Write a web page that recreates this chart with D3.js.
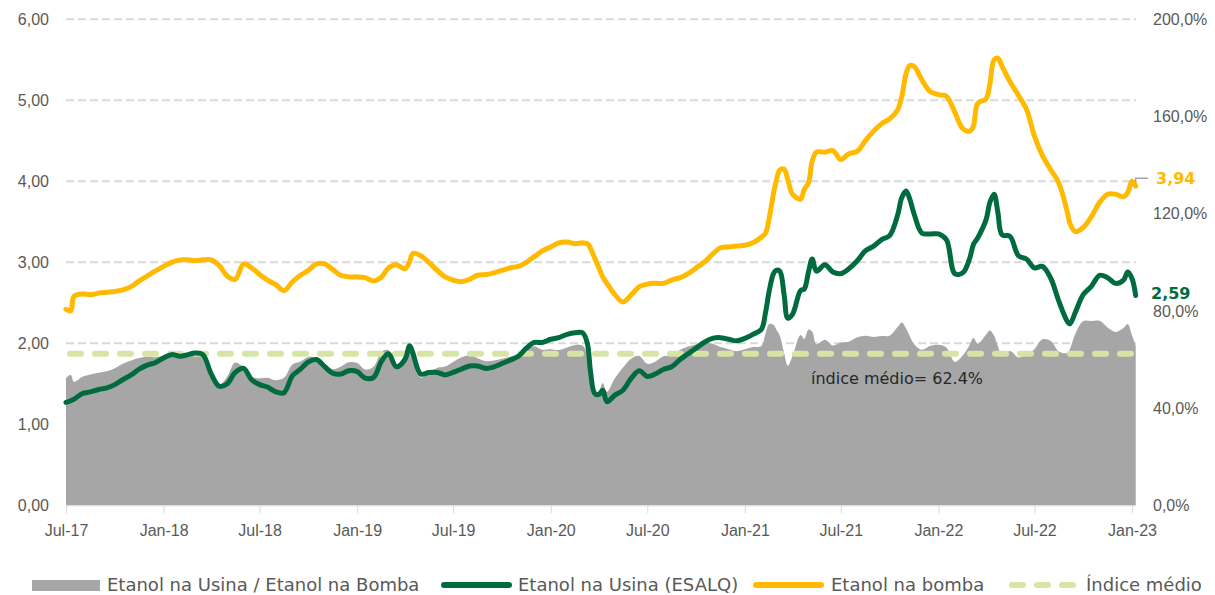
<!DOCTYPE html>
<html>
<head>
  <meta charset="utf-8">
  <title>Etanol</title>
  <style>
    body { margin: 0; background: #fff; }
    svg { font-family: "DejaVu Sans", sans-serif; }
    .axis text { fill: #595959; font-size: 16px; }
    .axis path, .axis line { stroke: #D9D9D9; }
    .legend text { fill: #595959; font-size: 18px; }
  </style>
</head>
<body>
<script src="https://d3js.org/d3.v7.min.js"></script>
<script>
  var width = 1215,
      height = 595;

  // semanas / quinzenas
  var datas = [
    '2017-07-01','2017-07-10','2017-07-16','2017-08-01','2017-08-16','2017-09-01','2017-09-16','2017-10-01','2017-10-16','2017-11-01','2017-11-16','2017-12-01','2017-12-16',
    '2018-01-01','2018-01-16','2018-02-01','2018-02-16','2018-03-01','2018-03-16','2018-04-01','2018-04-16','2018-05-01','2018-05-16','2018-06-01','2018-06-16',
    '2018-07-01','2018-07-16','2018-08-01','2018-08-16','2018-09-01','2018-09-16','2018-10-01','2018-10-16','2018-11-01','2018-11-16','2018-12-01','2018-12-16',
    '2019-01-01','2019-01-16','2019-02-01','2019-02-16','2019-03-01','2019-03-16','2019-04-01','2019-04-10','2019-04-16','2019-05-01','2019-05-16','2019-06-01','2019-06-16',
    '2019-07-01','2019-07-16','2019-08-01','2019-08-16','2019-09-01','2019-09-16','2019-10-01','2019-10-16','2019-11-01','2019-11-16','2019-12-01','2019-12-16',
    '2020-01-01','2020-01-16','2020-02-01','2020-02-16','2020-03-01','2020-03-10','2020-03-16','2020-03-24','2020-04-01','2020-04-08','2020-04-16','2020-05-01','2020-05-16','2020-06-01','2020-06-16',
    '2020-07-01','2020-07-16','2020-08-01','2020-08-16','2020-09-01','2020-09-16','2020-10-01','2020-10-16','2020-11-01','2020-11-16','2020-12-01','2020-12-16',
    '2021-01-01','2021-01-16','2021-02-01','2021-02-09','2021-02-16','2021-02-24','2021-03-01','2021-03-08','2021-03-16','2021-03-23','2021-04-01','2021-04-16','2021-04-23','2021-05-01','2021-05-08','2021-05-16','2021-06-01','2021-06-16',
    '2021-07-01','2021-07-16','2021-08-01','2021-08-16','2021-09-01','2021-09-16','2021-10-01','2021-10-16','2021-10-24','2021-11-01','2021-11-08','2021-11-16','2021-12-01','2021-12-16',
    '2022-01-01','2022-01-16','2022-02-01','2022-02-16','2022-03-01','2022-03-08','2022-03-16','2022-04-01','2022-04-08','2022-04-16','2022-04-23','2022-05-01','2022-05-16','2022-06-01','2022-06-16',
    '2022-07-01','2022-07-16','2022-08-01','2022-08-16','2022-09-01','2022-09-06','2022-09-16','2022-10-01','2022-10-16','2022-11-01','2022-11-16','2022-12-01','2022-12-16','2022-12-24',
    '2023-01-01','2023-01-08'
  ];

  // Etanol na bomba (R$/L)
  var bomba = [
    2.42,2.40,2.58,2.61,2.60,2.62,2.63,2.64,2.66,2.70,2.77,2.83,2.89,
    2.95,3.00,3.03,3.03,3.02,3.03,3.03,2.96,2.83,2.79,2.98,2.93,
    2.85,2.78,2.72,2.65,2.76,2.84,2.90,2.98,2.98,2.91,2.84,2.82,
    2.82,2.81,2.77,2.82,2.93,2.97,2.92,3.01,3.11,3.08,3.00,2.90,2.82,
    2.78,2.76,2.79,2.84,2.85,2.87,2.90,2.93,2.95,3.00,3.07,3.14,
    3.19,3.24,3.25,3.23,3.24,3.23,3.17,3.05,2.93,2.82,2.74,2.60,2.51,2.60,2.70,
    2.73,2.74,2.74,2.78,2.81,2.86,2.93,3.00,3.10,3.18,3.19,3.20,
    3.21,3.24,3.31,3.36,3.55,3.85,4.00,4.14,4.15,4.02,3.84,3.78,3.90,3.98,4.25,4.36,4.36,4.38,
    4.27,4.34,4.37,4.50,4.62,4.71,4.77,4.88,5.05,5.33,5.43,5.42,5.25,5.11,
    5.07,5.05,4.85,4.65,4.62,4.68,4.96,5.02,5.20,5.50,5.52,5.42,5.23,5.06,4.89,
    4.56,4.32,4.14,3.98,3.62,3.48,3.38,3.43,3.56,3.74,3.84,3.84,3.81,3.86,
    4.00,3.94
  ];

  // Etanol na usina - ESALQ (R$/L)
  var usina = [
    1.27,1.29,1.31,1.38,1.40,1.43,1.45,1.49,1.55,1.61,1.68,1.73,1.76,
    1.82,1.86,1.84,1.86,1.88,1.86,1.62,1.47,1.50,1.64,1.69,1.55,
    1.49,1.46,1.40,1.39,1.60,1.68,1.77,1.80,1.71,1.63,1.62,1.66,
    1.65,1.57,1.58,1.78,1.87,1.71,1.80,1.97,1.88,1.62,1.64,1.64,1.61,
    1.64,1.68,1.72,1.72,1.69,1.71,1.75,1.79,1.84,1.94,2.01,2.01,
    2.05,2.07,2.11,2.13,2.13,2.00,1.65,1.38,1.37,1.42,1.28,1.36,1.42,1.57,1.66,
    1.59,1.62,1.68,1.71,1.80,1.87,1.94,2.01,2.06,2.07,2.05,2.03,
    2.06,2.11,2.17,2.38,2.65,2.86,2.90,2.89,2.60,2.31,2.36,2.65,2.67,2.88,3.04,2.89,2.97,2.88,
    2.86,2.92,3.02,3.14,3.20,3.28,3.33,3.58,3.80,3.88,3.78,3.60,3.36,3.35,
    3.35,3.28,2.86,2.87,3.05,3.22,3.30,3.53,3.74,3.84,3.62,3.34,3.32,3.08,3.04,
    2.93,2.95,2.80,2.52,2.27,2.24,2.38,2.60,2.70,2.84,2.81,2.74,2.78,2.88,
    2.80,2.59
  ];

  var indiceMedio = 0.624;
  var yTicks = [0, 1, 2, 3, 4, 5, 6];
  var y2Ticks = [0, 0.4, 0.8, 1.2, 1.6, 2.0];
  var legendLabels = ['Etanol na Usina / Etanol na Bomba', 'Etanol na Usina (ESALQ)', 'Etanol na bomba', 'Índice médio'];

  var corBomba = '#FFBA00',
      corUsina = '#006B3E',
      corRazao = '#A6A6A6',
      corIndice = '#D6E4A4';

  var parse = d3.timeParse('%Y-%m-%d');
  var data = datas.map(function(d, i) {
    return {date: parse(d), bomba: bomba[i], usina: usina[i], razao: usina[i] / bomba[i]};
  });

  var br = d3.formatLocale({decimal: ',', thousands: '.', grouping: [3], currency: ['R$', '']});

  var svg = d3.select('body')
    .append('svg')
    .attr('width', width)
    .attr('height', height);

  var x = d3.scaleTime()
    .domain([parse('2017-07-01'), parse('2023-01-01')])
    .range([66, 1132]);

  var y = d3.scaleLinear().domain([0, 6]).range([505.3, 19.3]);
  var y2 = d3.scaleLinear().domain([0, 2]).range([505.3, 19.3]);

  var curva = d3.curveCatmullRom.alpha(0.5);

  // grade
  svg.append('g')
    .selectAll('line')
    .data(yTicks.slice(1))
    .enter()
    .append('line')
    .attr('x1', 66)
    .attr('x2', 1136)
    .attr('y1', function(d) { return y(d); })
    .attr('y2', function(d) { return y(d); })
    .attr('stroke', '#D9D9D9')
    .attr('stroke-width', 2)
    .attr('stroke-dasharray', '8,4');

  // área razão usina / bomba (eixo direito)
  var area = d3.area()
    .curve(curva)
    .x(function(d) { return x(d.date); })
    .y0(y2(0))
    .y1(function(d) { return y2(d.razao); });

  svg.append('path')
    .datum(data)
    .attr('d', area)
    .attr('fill', corRazao);

  // eixo x
  var xAxis = d3.axisBottom(x)
    .ticks(d3.timeMonth.every(6))
    .tickFormat(d3.timeFormat('%b-%y'))
    .tickSize(8)
    .tickSizeOuter(0)
    .tickPadding(11);

  svg.append('g')
    .attr('class', 'axis')
    .attr('transform', 'translate(0,' + y(0) + ')')
    .call(xAxis)
    .select('.domain')
    .attr('d', 'M66,0.5H1136');

  // eixo esquerdo
  svg.append('g')
    .attr('class', 'axis')
    .attr('transform', 'translate(66,0)')
    .call(d3.axisLeft(y).tickValues(yTicks).tickSize(0).tickPadding(17).tickFormat(br.format('.2f')))
    .call(function(g) { g.select('.domain').remove(); });

  // eixo direito
  svg.append('g')
    .attr('class', 'axis')
    .attr('transform', 'translate(1135,0)')
    .call(d3.axisRight(y2).tickValues(y2Ticks).tickSize(0).tickPadding(18).tickFormat(br.format('.1%')))
    .call(function(g) { g.select('.domain').remove(); });

  // índice médio
  svg.append('line')
    .attr('x1', 70)
    .attr('x2', 1133)
    .attr('y1', y2(indiceMedio))
    .attr('y2', y2(indiceMedio))
    .attr('stroke', corIndice)
    .attr('stroke-width', 6)
    .attr('stroke-linecap', 'round')
    .attr('stroke-dasharray', '11,14');

  svg.append('text')
    .attr('x', 811)
    .attr('y', y2(indiceMedio) + 30)
    .attr('fill', '#262626')
    .attr('font-size', 16)
    .text('índice médio= ' + d3.format('.1f')(indiceMedio * 100) + '%');

  var lineUsina = d3.line()
    .curve(curva)
    .x(function(d) { return x(d.date); })
    .y(function(d) { return y(d.usina); });

  var lineBomba = d3.line()
    .curve(curva)
    .x(function(d) { return x(d.date); })
    .y(function(d) { return y(d.bomba); });

  svg.append('path')
    .datum(data)
    .attr('d', lineUsina)
    .attr('fill', 'none')
    .attr('stroke', corUsina)
    .attr('stroke-width', 5)
    .attr('stroke-linejoin', 'round')
    .attr('stroke-linecap', 'round');

  svg.append('path')
    .datum(data)
    .attr('d', lineBomba)
    .attr('fill', 'none')
    .attr('stroke', corBomba)
    .attr('stroke-width', 5)
    .attr('stroke-linejoin', 'round')
    .attr('stroke-linecap', 'round');

  // rótulos do último valor
  var last = data[data.length - 1];

  svg.append('path')
    .attr('d', 'M' + x(last.date) + ',' + (y(last.bomba) - 4) + 'V' + (y(last.bomba) - 8) + 'H1148')
    .attr('fill', 'none')
    .attr('stroke', '#A6A6A6')
    .attr('stroke-width', 1.5);

  svg.append('text')
    .attr('x', 1156)
    .attr('y', y(last.bomba) - 2)
    .attr('fill', corBomba)
    .attr('font-size', 16)
    .attr('font-weight', 'bold')
    .text(br.format('.2f')(last.bomba));

  svg.append('text')
    .attr('x', 1151)
    .attr('y', y(last.usina) + 3)
    .attr('fill', corUsina)
    .attr('font-size', 16)
    .attr('font-weight', 'bold')
    .text(br.format('.2f')(last.usina));

  // legenda
  var legend = svg.append('g').attr('class', 'legend');
  var ly = 585;
  var swatchX = [32, 441, 753, 1009];
  var textX = [107, 518, 831, 1086];

  legend.append('rect')
    .attr('x', swatchX[0]).attr('y', ly - 5)
    .attr('width', 68).attr('height', 11)
    .attr('fill', corRazao);

  [corUsina, corBomba].forEach(function(c, i) {
    legend.append('line')
      .attr('x1', swatchX[i + 1] + 3).attr('x2', swatchX[i + 1] + 68)
      .attr('y1', ly).attr('y2', ly)
      .attr('stroke', c)
      .attr('stroke-width', 6)
      .attr('stroke-linecap', 'round');
  });

  legend.append('line')
    .attr('x1', swatchX[3] + 3).attr('x2', swatchX[3] + 68)
    .attr('y1', ly).attr('y2', ly)
    .attr('stroke', corIndice)
    .attr('stroke-width', 6)
    .attr('stroke-linecap', 'round')
    .attr('stroke-dasharray', '11,14');

  legend.selectAll('text')
    .data(legendLabels)
    .enter()
    .append('text')
    .attr('x', function(d, i) { return textX[i]; })
    .attr('y', ly)
    .attr('dy', '0.35em')
    .text(function(d) { return d; });
</script>
</body>
</html>
